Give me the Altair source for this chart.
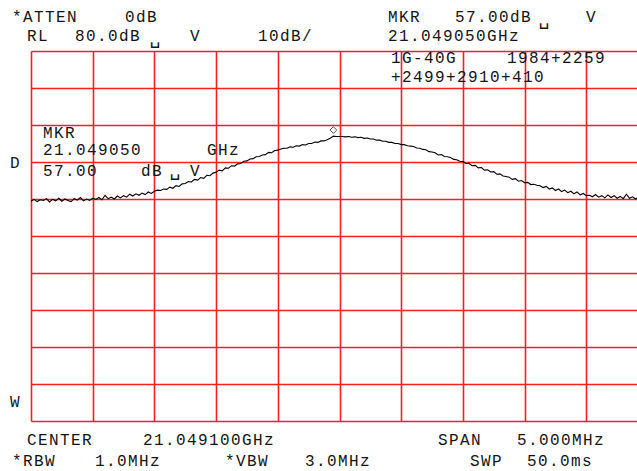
import altair as alt
import pandas as pd

# ---------------- data ----------------
center_ghz = 21.049100
span_mhz = 5.0
ref_level_db = 80.0
db_per_div = 10.0
sweep_step_mhz = 0.025
sweep_start_mhz = -2.5

level_db = [
    39.4, 39.9, 39.3, 39.8, 39.6, 40.1, 39.2, 39.9, 39.5, 40.2, 39.4, 40.0, 39.6, 39.3, 40.1, 39.7, 40.4, 39.5, 40.0, 39.6, 40.2,
    39.9, 40.4, 39.8, 41.0, 40.1, 40.5, 40.0, 40.8, 40.3, 40.9, 40.5, 41.3, 40.8, 41.4, 41.0, 41.6, 41.2, 41.9, 41.5, 42.1,
    42.4, 42.3, 42.7, 42.6, 43.2, 42.9, 43.6, 43.4, 44.1, 44.2, 44.7, 44.6, 45.3, 45.1, 45.8, 45.6, 46.4, 46.3, 47.0, 47.2,
    47.8, 47.6, 48.4, 48.3, 49.0, 48.9, 49.5, 49.6, 50.2, 50.3, 50.8, 50.9, 51.4, 51.5, 51.9, 52.0, 52.6, 52.5, 53.1, 53.2,
    53.5, 53.7, 53.7, 54.1, 54.0, 54.4, 54.3, 54.7, 54.6, 55.0, 55.0, 55.4, 55.3, 55.7, 55.7, 56.0, 56.4, 57.0, 56.9, 56.9,
    56.9, 56.8, 56.9, 56.7, 56.8, 56.6, 56.7, 56.4, 56.5, 56.2, 56.2, 55.9, 55.9, 55.6, 55.6, 55.3, 55.3, 55.0, 55.0, 54.7,
    54.7, 54.4, 54.3, 54.2, 53.8, 53.7, 53.4, 53.3, 52.8, 52.7, 52.5, 51.9, 52.0, 51.5, 51.4, 51.2, 50.7, 50.6, 50.2, 50.1,
    49.6, 49.6, 49.0, 49.1, 48.4, 48.5, 47.8, 47.9, 47.3, 47.4, 46.7, 46.8, 46.2, 46.1, 45.9, 45.3, 45.5, 44.8, 45.0, 44.4,
    44.5, 43.9, 44.0, 43.7, 43.6, 43.1, 43.4, 42.7, 43.0, 42.3, 42.7, 42.0, 42.4, 41.7, 42.1, 41.4, 41.9, 41.1, 41.5, 40.9,
    41.0, 40.6, 41.2, 40.5, 40.9, 40.3, 41.1, 40.4, 40.9, 40.2, 40.7, 40.1, 41.3, 40.2, 40.6, 40.0, 40.5, 40.2,
]
freq_mhz = [sweep_start_mhz + sweep_step_mhz * i for i in range(len(level_db))]

marker_offset_mhz = [-0.05]
marker_db = [57.00]

labels = [
    "*ATTEN", "0dB", "MKR", "57.00dB", "V",
    "RL", "80.0dB", "V", "10dB/", "21.049050GHz",
    "1G-40G", "1984+2259", "+2499+2910+410",
    "MKR", "21.049050", "GHz", "57.00", "dB", "V",
    "D", "W",
    "CENTER", "21.049100GHz", "SPAN", "5.000MHz",
    "*RBW", "1.0MHz", "*VBW", "3.0MHz", "SWP", "50.0ms",
]
unit_glyphs = ["\u2423", "\u2423", "\u2423"]

# ---------------- layout ----------------
X0, Y0 = 31, 51            # plot origin in page pixels
PLOT_W, PLOT_H = 606, 370
PX_PER_MHZ = 123.4
PX_PER_DB = 3.7
PITCH = 11.0
x_domain = [sweep_start_mhz, sweep_start_mhz + PLOT_W / PX_PER_MHZ]
y_domain = [ref_level_db - 10 * db_per_div, ref_level_db]

label_pos = [
    (12, 22), (125, 22), (388, 22), (455, 22), (586, 22),
    (27, 41), (75, 41), (190, 41), (258, 41), (388, 41),
    (391, 63), (507, 63), (391, 82),
    (43, 138), (43, 155), (207, 155), (43, 176), (141, 176), (190, 176),
    (10, 168), (10, 407),
    (27, 445), (143, 445), (438, 445), (517, 445),
    (12, 466), (95, 466), (225, 466), (305, 466), (470, 466), (527, 466),
]
glyph_pos = [(544, 25), (155, 44), (175, 176)]


def to_f(px):
    return (px - X0) / PX_PER_MHZ + sweep_start_mhz


def to_db(py):
    return ref_level_db - (py - Y0) / PX_PER_DB


RED = "#f52020"
TXT = "#151515"

grid_x = [sweep_start_mhz + 0.5 * i for i in range(10)]
grid_y = [y_domain[0] + db_per_div * i for i in range(11)]

x_axis = alt.Axis(values=grid_x, grid=True, labels=False, ticks=False, domain=False,
                  title=None, gridColor=RED, gridWidth=1.6, gridOpacity=1)
y_axis = alt.Axis(values=grid_y, grid=True, labels=False, ticks=False, domain=False,
                  title=None, gridColor=RED, gridWidth=1.6, gridOpacity=1)
xs = alt.Scale(domain=x_domain, nice=False, zero=False)
ys = alt.Scale(domain=y_domain, nice=False, zero=False)

trace_df = pd.DataFrame({"f": freq_mhz, "db": level_db})
trace = alt.Chart(trace_df).mark_line(color="#000000", strokeWidth=1.1, clip=True).encode(
    x=alt.X("f:Q", scale=xs, axis=x_axis),
    y=alt.Y("db:Q", scale=ys, axis=y_axis),
)

mk_df = pd.DataFrame({"f": marker_offset_mhz, "db": marker_db})
marker = alt.Chart(mk_df).mark_point(shape="diamond", filled=False, color="#000000",
                                     size=45, strokeWidth=1, yOffset=-6).encode(
    x=alt.X("f:Q", scale=xs, axis=x_axis),
    y=alt.Y("db:Q", scale=ys, axis=y_axis),
)

rows = []
for txt, (lx, ly) in zip(labels, label_pos):
    for i, ch in enumerate(txt):
        if ch == " ":
            continue
        rows.append({"f": to_f(lx + PITCH * i + 4.8), "db": to_db(ly), "ch": ch})
text_df = pd.DataFrame(rows)
texts = alt.Chart(text_df).mark_text(font="Liberation Mono", fontSize=16, align="center",
                                     baseline="alphabetic", color=TXT).encode(
    x=alt.X("f:Q", scale=xs, axis=x_axis),
    y=alt.Y("db:Q", scale=ys, axis=y_axis),
    text="ch:N",
)

g_rows = [{"f": to_f(gx), "db": to_db(gy), "ch": g} for g, (gx, gy) in zip(unit_glyphs, glyph_pos)]
glyphs = alt.Chart(pd.DataFrame(g_rows)).mark_text(font="DejaVu Sans Mono", fontSize=18, align="center",
                                                   baseline="alphabetic", color=TXT).encode(
    x=alt.X("f:Q", scale=xs, axis=x_axis),
    y=alt.Y("db:Q", scale=ys, axis=y_axis),
    text="ch:N",
)

chart = alt.layer(trace, marker, texts, glyphs).properties(
    width=PLOT_W, height=PLOT_H,
    autosize=alt.AutoSizeParams(type="none"),
    padding={"left": X0, "top": Y0, "right": 0, "bottom": 471 - Y0 - PLOT_H},
    background="white",
).configure_view(stroke=None)

chart.save("out.html", embed_options={"renderer": "svg", "actions": False})
